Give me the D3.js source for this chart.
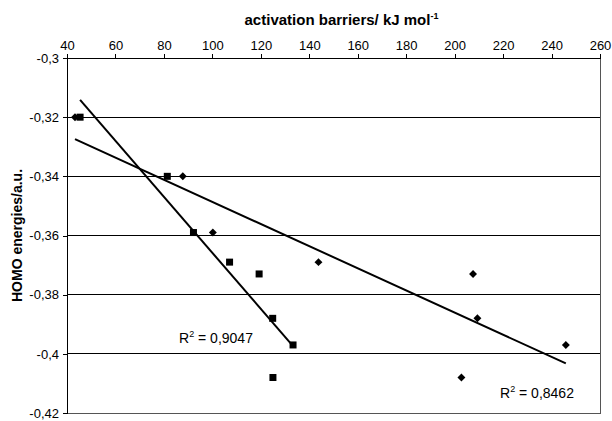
<!DOCTYPE html>
<html>
<head>
<meta charset="utf-8">
<script src="https://cdn.jsdelivr.net/npm/d3@7"></script>
<style>
  body { margin: 0; background: #fff; }
  svg { display: block; font-family: "Liberation Sans", Arial, sans-serif; }
</style>
</head>
<body>
<div id="chart"></div>
<script>
// HOMO energies (a.u.) shared by both series
const homoEnergy = [-0.32, -0.34, -0.359, -0.369, -0.373, -0.388, -0.397, -0.408];
// activation barriers (kJ/mol), square series
const barrierSquares = [45.4, 81.4, 92.2, 107.1, 119.3, 124.9, 133.3, 125.0];
// activation barriers (kJ/mol), diamond series
const barrierDiamonds = [43.3, 87.8, 100.2, 143.8, 207.6, 209.4, 245.9, 202.8];
const xTicks = [40, 60, 80, 100, 120, 140, 160, 180, 200, 220, 240, 260];
const yTicks = [-0.3, -0.32, -0.34, -0.36, -0.38, -0.4, -0.42];
const rSquaredLabels = ["0,9047", "0,8462"];

const width = 612, height = 421;
const margin = { top: 58, right: 12, bottom: 8, left: 67 };
const w = width - margin.left - margin.right;
const h = height - margin.top - margin.bottom;

const svg = d3.select("#chart").append("svg")
  .attr("width", width)
  .attr("height", height);

const g = svg.append("g")
  .attr("transform", "translate(" + margin.left + "," + margin.top + ")");

const x = d3.scaleLinear().domain([40, 260]).range([0, w]);
const y = d3.scaleLinear().domain([-0.42, -0.3]).range([h, 0]);

// comma decimal, plain hyphen minus
const loc = d3.formatLocale({ decimal: ",", thousands: ".", grouping: [3], currency: ["", ""], minus: "-" });
const fmt = loc.format(".2~f");

// gridlines
g.append("g").selectAll("line").data(yTicks).enter().append("line")
  .attr("x1", 0).attr("x2", w)
  .attr("y1", d => y(d)).attr("y2", d => y(d))
  .attr("stroke", "#000").attr("stroke-width", 1)
  .attr("shape-rendering", "crispEdges");

// plot border (right/bottom)
g.append("rect")
  .attr("x", 0).attr("y", 0).attr("width", w).attr("height", h)
  .attr("fill", "none").attr("stroke", "#555")
  .attr("shape-rendering", "crispEdges");

// axes
const xAxis = g.append("g")
  .call(d3.axisTop(x).tickValues(xTicks).tickSize(4).tickPadding(4).tickFormat(d3.format("d")));
const yAxis = g.append("g")
  .call(d3.axisLeft(y).tickValues(yTicks).tickSize(4).tickPadding(4).tickFormat(fmt));

[xAxis, yAxis].forEach(a => {
  a.select(".domain").attr("stroke", "#000").attr("shape-rendering", "crispEdges");
  a.selectAll(".tick line").attr("stroke", "#000").attr("shape-rendering", "crispEdges");
  a.selectAll("text").attr("font-size", 13).attr("fill", "#000")
    .attr("font-family", "'Liberation Sans', Arial, sans-serif");
});

// axis titles
const xt = svg.append("text")
  .attr("x", margin.left + w / 2 + 8).attr("y", 25)
  .attr("text-anchor", "middle")
  .attr("font-size", 15).attr("font-weight", "bold")
  .text("activation barriers/ kJ mol");
xt.append("tspan").attr("dy", -6).attr("font-size", 9).text("-1");

svg.append("text")
  .attr("transform", "translate(22," + (margin.top + h / 2) + ") rotate(-90)")
  .attr("text-anchor", "middle")
  .attr("font-size", 14).attr("font-weight", "bold")
  .text("HOMO energies/a.u.");

// linear trendline (least squares) over data x-range
function trend(xs, ys) {
  const mx = d3.mean(xs), my = d3.mean(ys);
  let sxy = 0, sxx = 0;
  xs.forEach((v, i) => { sxy += (v - mx) * (ys[i] - my); sxx += (v - mx) * (v - mx); });
  const b = sxy / sxx, a = my - b * mx;
  const ext = d3.extent(xs);
  return ext.map(v => [v, a + b * v]);
}

const line = d3.line().x(d => x(d[0])).y(d => y(d[1]));

[barrierSquares, barrierDiamonds].forEach(xs => {
  g.append("path")
    .datum(trend(xs, homoEnergy))
    .attr("d", line)
    .attr("fill", "none").attr("stroke", "#000").attr("stroke-width", 2);
});

// markers
g.append("g").selectAll("path").data(barrierDiamonds.map((v, i) => [v, homoEnergy[i]])).enter()
  .append("path")
  .attr("d", d3.symbol().type(d3.symbolDiamond2).size(40))
  .attr("transform", d => "translate(" + x(d[0]) + "," + y(d[1]) + ")")
  .attr("fill", "#000");

g.append("g").selectAll("rect").data(barrierSquares.map((v, i) => [v, homoEnergy[i]])).enter()
  .append("rect")
  .attr("x", d => x(d[0]) - 3.5).attr("y", d => y(d[1]) - 3.5)
  .attr("width", 7).attr("height", 7)
  .attr("fill", "#000");

// R² labels
const rPos = [[179, 343], [500, 398]];
rSquaredLabels.forEach((txt, i) => {
  const t = svg.append("text")
    .attr("x", rPos[i][0]).attr("y", rPos[i][1])
    .attr("font-size", 14).attr("fill", "#000");
  t.append("tspan").text("R");
  t.append("tspan").attr("dy", -6).attr("font-size", 9).text("2");
  t.append("tspan").attr("dy", 6).text(" = " + txt);
});
</script>
</body>
</html>
